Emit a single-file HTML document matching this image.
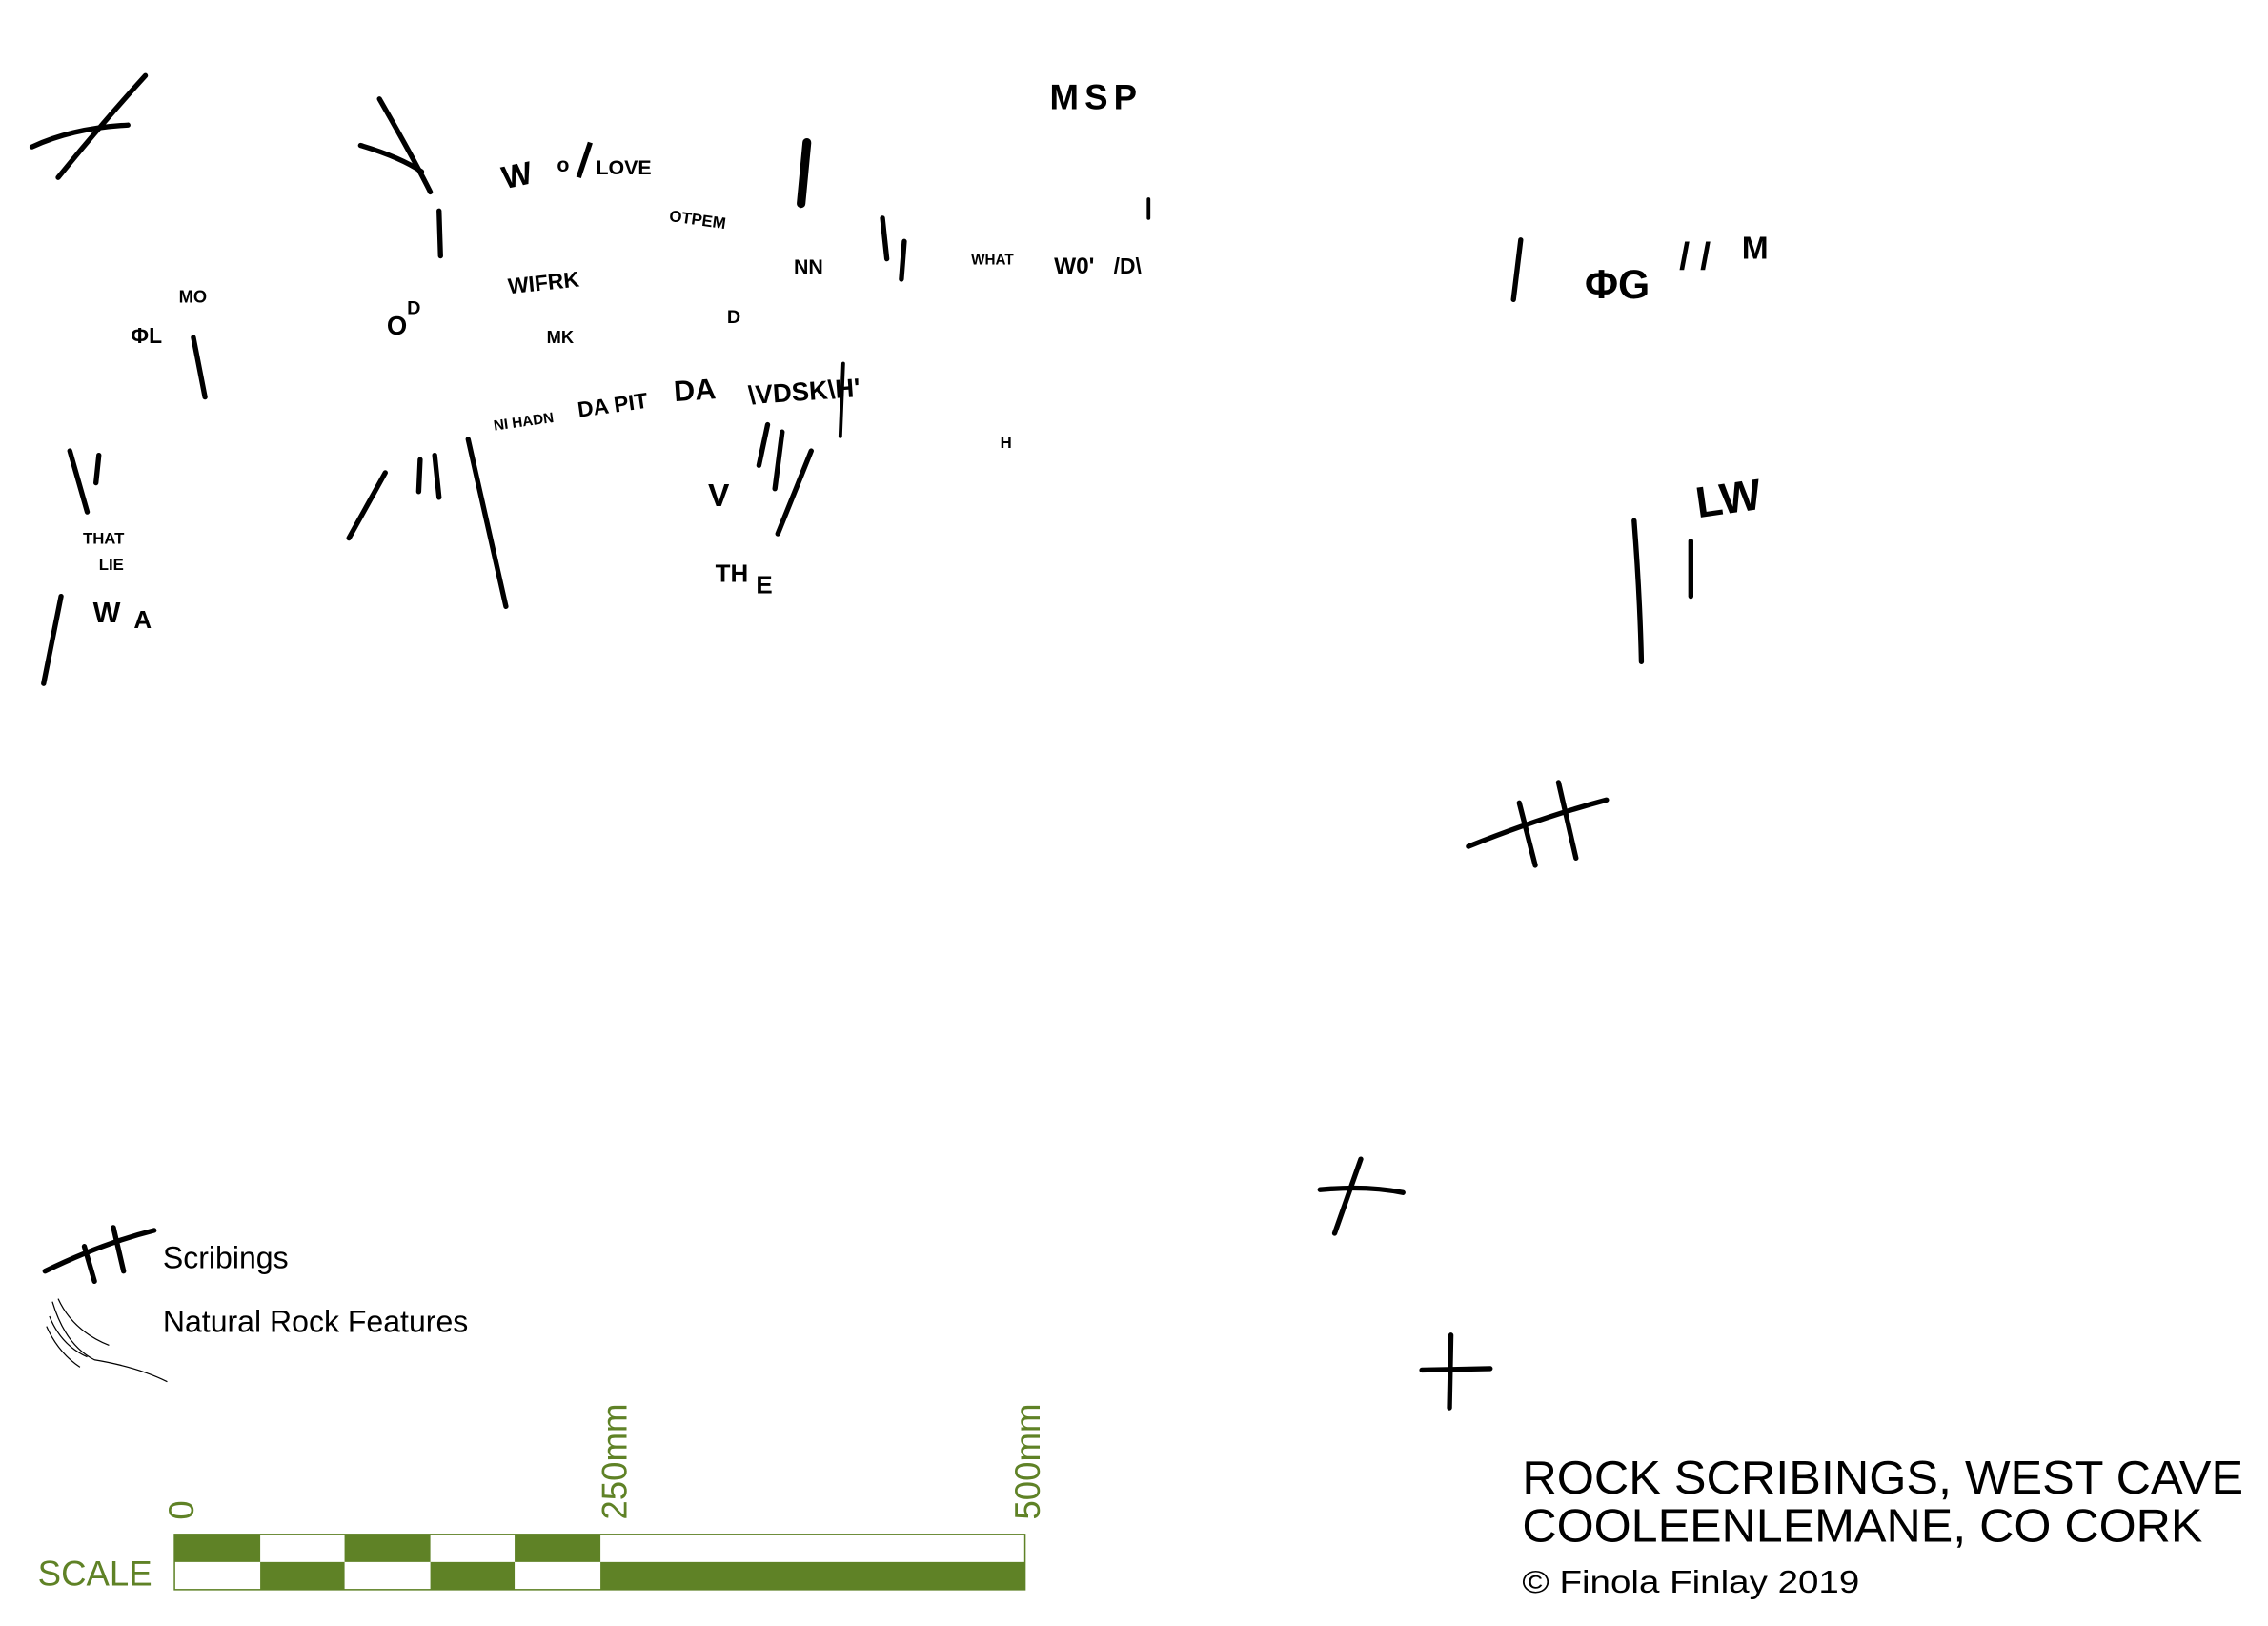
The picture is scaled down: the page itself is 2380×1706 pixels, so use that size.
<!DOCTYPE html>
<html><head><meta charset="utf-8">
<style>
html,body{margin:0;padding:0;background:#fff;}
svg{display:block;}
</style></head>
<body>
<svg width="2380" height="1706" viewBox="0 0 1560 1118" preserveAspectRatio="none" xmlns="http://www.w3.org/2000/svg">
<rect width="1560" height="1118" fill="#fff"/>
<g stroke="#000" stroke-linecap="round" fill="none" stroke-width="3.5">
<path d="M22,101 Q50,88 88,86"/>
<path d="M100,52 Q70,85 40,122"/>
<path d="M261,68 Q285,110 296,132"/>
<path d="M248,100 Q275,108 290,118"/>
<path d="M302,145 L303,176"/>
<path d="M555,98 L551,140" stroke-width="6"/>
<path d="M607,150 L610,178"/><path d="M622,166 L620,192"/>
<path d="M790,137 L790,150" stroke-width="2.5"/>
<path d="M133,232 L141,273"/>
<path d="M48,310 L60,352"/><path d="M68,313 L66,332"/>
<path d="M42,410 L30,470"/>
<path d="M265,325 L240,370"/>
<path d="M289,316 L288,338"/><path d="M299,313 L302,342"/>
<path d="M322,302 Q335,360 348,417"/>
<path d="M528,292 L522,320"/><path d="M538,297 L533,336"/><path d="M558,310 L535,367"/>
<path d="M580,250 L578,300" stroke-width="2.5"/>
<path d="M1046,165 L1041,206"/>
<path d="M1124,358 Q1128,410 1129,455"/>
<path d="M1163,372 L1163,410"/>
<path d="M1010,582 Q1060,562 1105,550"/>
<path d="M1045,552 L1056,595"/>
<path d="M1072,538 L1084,590"/>
<path d="M908,818 Q940,815 965,820"/>
<path d="M936,797 L918,848"/>
<path d="M978,942 L1025,941"/>
<path d="M998,918 L997,968"/>
<path d="M31,874 Q70,855 106,846"/>
<path d="M58,857 L65,881"/>
<path d="M78,844 L85,874"/>
</g>
<g stroke="#000" fill="none" stroke-width="0.8">
<path d="M36,895 Q45,925 65,935 Q95,940 115,950"/>
<path d="M34,905 Q42,925 60,933"/>
<path d="M32,912 Q40,930 55,940"/>
<path d="M40,893 Q50,915 75,925"/>
</g>
<g font-family="'Liberation Sans', sans-serif" font-weight="bold" fill="#000">
<text x="722" y="75" font-size="24" letter-spacing="4">MSP</text>
<text x="347" y="130" font-size="22" transform="rotate(-12 347 130)">W</text>
<text x="383" y="118" font-size="14">o</text>
<path d="M406,98 L398,122" stroke="#000" stroke-width="3.5"/>
<text x="410" y="120" font-size="14">LOVE</text>
<text x="460" y="152" font-size="11" transform="rotate(8 460 152)">OTPEM</text>
<text x="546" y="188" font-size="14">NN</text>
<text x="668" y="182" font-size="10">WHAT</text>
<text x="725" y="188" font-size="16">W0'</text>
<text x="766" y="188" font-size="15">/D\</text>
<text x="123" y="208" font-size="12">MO</text>
<text x="90" y="236" font-size="15">ΦL</text>
<text x="266" y="230" font-size="18">O</text><text x="280" y="216" font-size="13">D</text>
<text x="350" y="202" font-size="15" transform="rotate(-6 350 202)">WIFRK</text>
<text x="376" y="236" font-size="12">MK</text>
<text x="500" y="222" font-size="13">D</text>
<text x="340" y="296" font-size="10" transform="rotate(-8 340 296)">NI HADN</text>
<text x="398" y="287" font-size="15" transform="rotate(-8 398 287)">DA PIT</text>
<text x="464" y="276" font-size="20" transform="rotate(-4 464 276)">DA</text>
<text x="515" y="278" font-size="18" transform="rotate(-4 515 278)">\VDSK\H'</text>
<text x="688" y="308" font-size="11">H</text>
<text x="57" y="374" font-size="11">THAT</text>
<text x="68" y="392" font-size="11">LIE</text>
<text x="64" y="428" font-size="20">W</text><text x="92" y="432" font-size="17">A</text>
<text x="487" y="348" font-size="22">V</text>
<text x="492" y="400" font-size="17">TH</text><text x="520" y="408" font-size="17">E</text>
<text x="1090" y="205" font-size="28">ΦG</text>
<text x="1155" y="185" font-size="26">/ /</text>
<text x="1198" y="178" font-size="22">M</text>
<text x="1168" y="356" font-size="30" transform="rotate(-8 1168 356)">LW</text>
</g>
<g font-family="'Liberation Sans', sans-serif" fill="#000">
<text x="112" y="872" font-size="21">Scribings</text>
<text x="112" y="916" font-size="21">Natural Rock Features</text>
<text x="1047" y="1027" font-size="32" textLength="496" lengthAdjust="spacingAndGlyphs">ROCK SCRIBINGS, WEST CAVE</text>
<text x="1047" y="1060" font-size="32" textLength="468" lengthAdjust="spacingAndGlyphs">COOLEENLEMANE, CO CORK</text>
<text x="1047" y="1095" font-size="22" textLength="232" lengthAdjust="spacingAndGlyphs">© Finola Finlay  2019</text>
</g>
<g fill="#5f8226">
<rect x="120" y="1055" width="585" height="38" fill="#fff" stroke="#5f8226" stroke-width="1"/>
<rect x="120" y="1055" width="59" height="19"/>
<rect x="237" y="1055" width="59" height="19"/>
<rect x="354" y="1055" width="59" height="19"/>
<rect x="179" y="1074" width="58" height="19"/>
<rect x="296" y="1074" width="58" height="19"/>
<rect x="413" y="1074" width="292" height="19"/>
</g>
<g font-family="'Liberation Sans', sans-serif" fill="#5f8226">
<text x="26" y="1090" font-size="24">SCALE</text>
<text transform="translate(133 1045) rotate(-90)" font-size="24">0</text>
<text transform="translate(431 1045) rotate(-90)" font-size="24">250mm</text>
<text transform="translate(715 1045) rotate(-90)" font-size="24">500mm</text>
</g>
</svg>
</body></html>
